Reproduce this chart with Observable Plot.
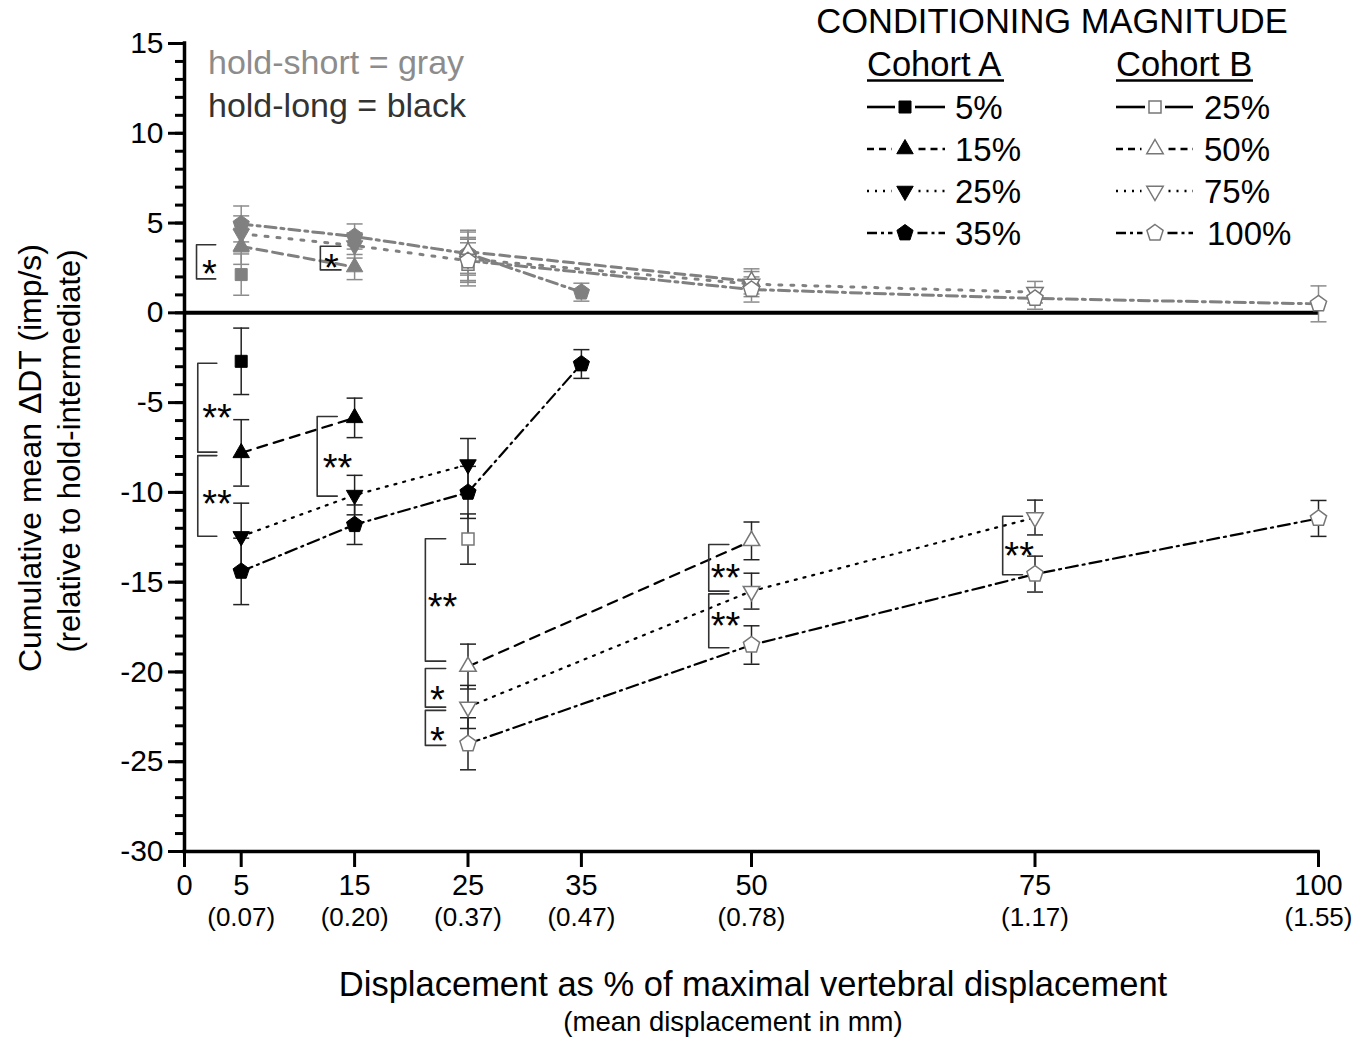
<!DOCTYPE html>
<html><head><meta charset="utf-8">
<script src="https://cdn.jsdelivr.net/npm/d3@7"></script>
<script src="https://cdn.jsdelivr.net/npm/@observablehq/plot@0.6"></script>
<style>html,body{margin:0;padding:0;background:#fff;}</style>
</head><body><div id="chart"></div>
<script>
// ---------------- DATA ----------------
const xTicks = [0, 5, 15, 25, 35, 50, 75, 100];
const xTickLabels = ["0", "5", "15", "25", "35", "50", "75", "100"];
const mmLabels = ["", "(0.07)", "(0.20)", "(0.37)", "(0.47)", "(0.78)", "(1.17)", "(1.55)"];
const yMajorTicks = [-30, -25, -20, -15, -10, -5, 0, 5, 10, 15];
const yMinorTicks = [-30,-29,-28,-27,-26,-25,-24,-23,-22,-21,-20,-19,-18,-17,-16,-15,-14,-13,-12,-11,-10,-9,-8,-7,-6,-5,-4,-3,-2,-1,0,1,2,3,4,5,6,7,8,9,10,11,12,13,14,15];

const magnitudesA = ["5%", "15%", "25%", "35%"];
const magnitudesB = ["25%", "50%", "75%", "100%"];
const displacementsA = [5, 15, 25, 35];
const displacementsB = [25, 50, 75, 100];

// hold-long (black) — Cohort A
const longA5 = [-2.7],                       longA5Err = [1.85];
const longA15 = [-7.8, -5.85],               longA15Err = [1.85, 1.1];
const longA25 = [-12.45, -10.15, -8.45],     longA25Err = [1.85, 1.1, 1.45];
const longA35 = [-14.4, -11.8, -10.0, -2.85], longA35Err = [1.85, 1.1, 1.45, 0.8];
// hold-long (black) — Cohort B
const longB25 = [-12.6],                      longB25Err = [1.4];
const longB50 = [-19.7, -12.7],               longB50Err = [1.25, 1.05];
const longB75 = [-21.95, -15.5, -11.4],       longB75Err = [1.2, 1.0, 0.97];
const longB100 = [-24.0, -18.5, -14.55, -11.45], longB100Err = [1.45, 1.07, 1.0, 1.0];
// hold-short (gray) — Cohort A
const shortA5 = [2.13],                       shortA5Err = [1.15];
const shortA15 = [3.7, 2.55],                 shortA15Err = [1.0, 0.7];
const shortA25 = [4.4, 3.75, 2.9],            shortA25Err = [1.0, 0.7, 1.2];
const shortA35 = [4.95, 4.25, 3.3, 1.15],     shortA35Err = [1.0, 0.7, 1.2, 0.5];
// hold-short (gray) — Cohort B
const shortB25 = [2.7],                       shortB25Err = [1.2];
const shortB50 = [3.4, 1.75],                 shortB50Err = [1.2, 0.7];
const shortB75 = [3.0, 1.6, 1.15],            shortB75Err = [1.2, 0.7, 0.6];
const shortB100 = [2.9, 1.3, 0.8, 0.5],       shortB100Err = [1.2, 0.7, 0.6, 1.0];

// significance brackets (data units)
const brackets = [
  {xv: 1.06, xe: 2.75, y1: 3.79, y2: 1.89, label: "*", lx: 2.2, ly: 2.69},
  {xv: 11.98, xe: 13.8, y1: 3.71, y2: 2.39, label: "*", lx: 12.96, ly: 3.02},
  {xv: 1.17, xe: 2.85, y1: -2.81, y2: -7.76, label: "**", lx: 2.87, ly: -5.33},
  {xv: 1.17, xe: 2.85, y1: -7.95, y2: -12.44, label: "**", lx: 2.87, ly: -10.12},
  {xv: 11.7, xe: 13.47, y1: -5.77, y2: -10.21, label: "**", lx: 13.5, ly: -8.11},
  {xv: 21.24, xe: 23.03, y1: -12.58, y2: -19.4, label: "**", lx: 22.75, ly: -15.9},
  {xv: 21.24, xe: 23.03, y1: -19.81, y2: -21.96, label: "*", lx: 22.3, ly: -21.04},
  {xv: 21.24, xe: 23.03, y1: -22.14, y2: -24.09, label: "*", lx: 22.3, ly: -23.35},
  {xv: 46.23, xe: 48.0, y1: -12.9, y2: -15.5, label: "**", lx: 47.7, ly: -14.24},
  {xv: 46.23, xe: 48.0, y1: -15.65, y2: -18.65, label: "**", lx: 47.7, ly: -16.95},
  {xv: 72.15, xe: 73.9, y1: -11.33, y2: -14.59, label: "**", lx: 73.6, ly: -13.01}
];

// ---------------- STYLE ----------------
const FONT = "'Liberation Sans', Arial, Helvetica, sans-serif";
const rad = (size) => Math.sqrt(size / Math.PI);
const symSquare = {draw(c, s) { const r = rad(s); c.rect(-r, -r, 2 * r, 2 * r); }};
const symTriUp = {draw(c, s) { const r = rad(s), h = r * Math.sqrt(3) / 2; c.moveTo(0, -r); c.lineTo(h, r / 2); c.lineTo(-h, r / 2); c.closePath(); }};
const symTriDown = {draw(c, s) { const r = rad(s), h = r * Math.sqrt(3) / 2; c.moveTo(0, r); c.lineTo(h, -r / 2); c.lineTo(-h, -r / 2); c.closePath(); }};
const symPent = {draw(c, s) { const r = rad(s); for (let k = 0; k < 5; k++) { const a = -Math.PI / 2 + k * 2 * Math.PI / 5; const px = r * Math.cos(a), py = r * Math.sin(a); k ? c.lineTo(px, py) : c.moveTo(px, py); } c.closePath(); }};
const symCap = {draw(c, s) { const r = rad(s); c.moveTo(-r, 0); c.lineTo(r, 0); }};
const shapes = [symSquare, symTriUp, symTriDown, symPent];
const radii = [6, 9.5, 9.5, 8.5];

const holdStyle = {
  long:  {line: "#000", marker: "#000", err: "#222", width: 2.2, dash: [null, "10,7", "2,7", "12,5,2,5"]},
  short: {line: "#808080", marker: "#808080", err: "#8c8c8c", width: 3, dash: [null, "10,6", "3,9", "11,5,3,5"]}
};
const openStroke = "#777";

// ---------------- TABLE ----------------
function build(hold, cohort, xs, vals, errs) {
  const out = [];
  vals.forEach((v, rank) => v.forEach((y, j) => out.push({hold, cohort, rank, x: xs[j], y, err: errs[rank][j]})));
  return out;
}
const rows = [
  ...build("long", "A", displacementsA, [longA5, longA15, longA25, longA35], [longA5Err, longA15Err, longA25Err, longA35Err]),
  ...build("long", "B", displacementsB, [longB25, longB50, longB75, longB100], [longB25Err, longB50Err, longB75Err, longB100Err]),
  ...build("short", "A", displacementsA, [shortA5, shortA15, shortA25, shortA35], [shortA5Err, shortA15Err, shortA25Err, shortA35Err]),
  ...build("short", "B", displacementsB, [shortB25, shortB50, shortB75, shortB100], [shortB25Err, shortB50Err, shortB75Err, shortB100Err])
];

const marks = [];
marks.push(Plot.ruleY([0], {stroke: "#000", strokeWidth: 4}));
for (const hold of ["short", "long"]) {
  const st = holdStyle[hold], sub = rows.filter(d => d.hold === hold);
  marks.push(Plot.ruleX(sub, {x: "x", y1: d => d.y - d.err, y2: d => d.y + d.err, stroke: st.err, strokeWidth: 1.5}));
  marks.push(Plot.dot(sub, {x: "x", y: d => d.y + d.err, symbol: symCap, r: 8, fill: "none", stroke: st.err, strokeWidth: 1.5}));
  marks.push(Plot.dot(sub, {x: "x", y: d => d.y - d.err, symbol: symCap, r: 8, fill: "none", stroke: st.err, strokeWidth: 1.5}));
}
for (const hold of ["short", "long"]) for (const cohort of ["A", "B"]) for (let rank = 0; rank < 4; rank++) {
  const st = holdStyle[hold];
  const sub = rows.filter(d => d.hold === hold && d.cohort === cohort && d.rank === rank);
  const opts = {x: "x", y: "y", stroke: st.line, strokeWidth: st.width};
  if (st.dash[rank]) opts.strokeDasharray = st.dash[rank];
  marks.push(Plot.line(sub, opts));
}
for (const hold of ["short", "long"]) for (const cohort of ["A", "B"]) for (let rank = 0; rank < 4; rank++) {
  const st = holdStyle[hold];
  const sub = rows.filter(d => d.hold === hold && d.cohort === cohort && d.rank === rank);
  marks.push(Plot.dot(sub, {
    x: "x", y: "y", symbol: shapes[rank], r: radii[rank],
    fill: cohort === "A" ? st.marker : "#fff",
    stroke: cohort === "A" ? st.marker : openStroke,
    strokeWidth: cohort === "A" ? 1 : 1.5
  }));
}
const bracketPath = brackets.flatMap((b, i) => [
  {id: i, x: b.xe, y: b.y1}, {id: i, x: b.xv, y: b.y1}, {id: i, x: b.xv, y: b.y2}, {id: i, x: b.xe, y: b.y2}
]);
marks.push(Plot.line(bracketPath, {x: "x", y: "y", z: "id", stroke: "#333", strokeWidth: 1.6}));
marks.push(Plot.text(brackets, {x: "lx", y: "ly", text: "label", fontSize: 38, dy: 10, fill: "#000"}));
marks.push(Plot.axisY({ticks: yMinorTicks, tickSize: 9, strokeWidth: 3, tickFormat: () => "", label: null}));
marks.push(Plot.axisY({ticks: yMajorTicks, tickSize: 16, tickPadding: 5, strokeWidth: 3, fontSize: 30, tickFormat: d => String(d), label: null}));
marks.push(Plot.axisX({ticks: xTicks, tickSize: 16, strokeWidth: 3, tickFormat: () => "", label: null}));
marks.push(Plot.text(xTicks, {x: d => d, text: (d, i) => xTickLabels[i], frameAnchor: "bottom", dy: 43, fontSize: 29, fill: "#000"}));
marks.push(Plot.text(xTicks, {x: d => d, text: (d, i) => mmLabels[i], frameAnchor: "bottom", dy: 74, fontSize: 26, fill: "#000"}));
marks.push(Plot.ruleX([0], {stroke: "#000", strokeWidth: 3.5, strokeLinecap: "square"}));
marks.push(Plot.ruleY([-30], {stroke: "#000", strokeWidth: 3.5, strokeLinecap: "square"}));

const svg = Plot.plot({
  width: 1371, height: 1038,
  marginLeft: 184, marginRight: 53, marginTop: 43, marginBottom: 187,
  x: {type: "linear", domain: [0, 100], axis: null},
  y: {type: "linear", domain: [-30, 15], axis: null},
  style: {fontFamily: FONT, background: "#fff", color: "#000", overflow: "visible"},
  marks
});
document.getElementById("chart").appendChild(svg);

// ---------------- annotations, titles, legend ----------------
const g = d3.select(svg).append("g").attr("font-family", FONT).attr("fill", "#000").attr("text-anchor", "start");
g.append("text").attr("x", 208).attr("y", 74).attr("font-size", 34).attr("fill", "#8c8c8c").text("hold-short = gray");
g.append("text").attr("x", 208).attr("y", 117).attr("font-size", 34).attr("fill", "#333").text("hold-long = black");

g.append("text").attr("transform", "translate(41,458) rotate(-90)").attr("text-anchor", "middle").attr("font-size", 32).text("Cumulative mean \u0394DT (imp/s)");
g.append("text").attr("transform", "translate(80,451) rotate(-90)").attr("text-anchor", "middle").attr("font-size", 31).text("(relative to hold-intermediate)");

g.append("text").attr("x", 753).attr("y", 996).attr("text-anchor", "middle").attr("font-size", 34.5).text("Displacement as % of maximal vertebral displacement");
g.append("text").attr("x", 733).attr("y", 1031).attr("text-anchor", "middle").attr("font-size", 27.5).text("(mean displacement in mm)");

g.append("text").attr("x", 1052).attr("y", 33).attr("text-anchor", "middle").attr("font-size", 34.5).text("CONDITIONING MAGNITUDE");
const cohorts = [
  {name: "Cohort A", tx: 867, ux2: 1004, l1: 867, l2: 945, mx: 905, lab: 955, mags: magnitudesA, open: false},
  {name: "Cohort B", tx: 1116, ux2: 1253, l1: 1116, l2: 1193, mx: 1155, lab: 1204, mags: magnitudesB, open: true}
];
const legDash = [null, "7,5", "2,6", "10,4,3,4"];
const rowY = [107, 149, 191, 233];
for (const c of cohorts) {
  g.append("text").attr("x", c.tx).attr("y", 76).attr("font-size", 34.5).text(c.name);
  g.append("line").attr("x1", c.tx).attr("x2", c.ux2).attr("y1", 80.5).attr("y2", 80.5).attr("stroke", "#000").attr("stroke-width", 2.5);
  c.mags.forEach((m, i) => {
    const y = rowY[i], gap = radii[i] + 4;
    for (const [a, b] of [[c.l1, c.mx - gap], [c.mx + gap, c.l2]]) {
      const ln = g.append("line").attr("x1", a).attr("x2", b).attr("y1", y).attr("y2", y).attr("stroke", "#000").attr("stroke-width", 2.6);
      if (legDash[i]) ln.attr("stroke-dasharray", legDash[i]);
    }
    const r = radii[i];
    g.append("path").attr("d", d3.symbol().type(shapes[i]).size(Math.PI * r * r)())
      .attr("transform", `translate(${c.mx},${y})`)
      .attr("fill", c.open ? "#fff" : "#000").attr("stroke", c.open ? openStroke : "#000").attr("stroke-width", c.open ? 1.5 : 1);
    g.append("text").attr("x", c.lab + (c.open && i === 3 ? 3 : 0)).attr("y", y + 11.5).attr("font-size", 33).text(m);
  });
}
</script>
</body></html>
